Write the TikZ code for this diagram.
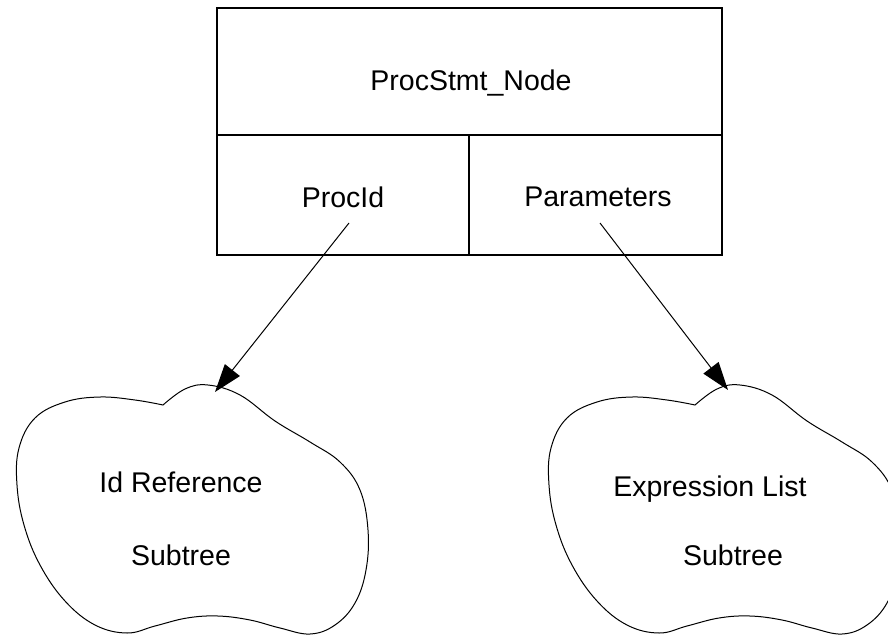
\documentclass[tikz,border=0pt]{standalone}
\usepackage{fontspec}
\setmainfont{Liberation Sans}
\usetikzlibrary{arrows.meta}
\begin{document}
\begin{tikzpicture}[x=1pt,y=-1pt,
  cell/.style={draw, line width=1.2pt, inner sep=0pt, outer sep=0pt},
  label/.style={anchor=base, inner sep=0pt, font=\fontsize{28.5}{34}\selectfont},
  cloudline/.style={line width=1pt},
  link/.style={line width=1pt, -{Triangle[length=28pt,width=19pt]}}]
\useasboundingbox (0,0) rectangle (888,634);
\clip (0,0) rectangle (888,634);

% record cells
\node[cell, minimum width=505pt, minimum height=127pt] (head) at (469.5,71.5) {};
\node[cell, minimum width=252pt, minimum height=120pt] (procid) at (343,195) {};
\node[cell, minimum width=253pt, minimum height=120pt] (params) at (595.5,195) {};

\node[label] (headtxt) at (471,90) {ProcStmt\_Node};
\node[label] (procidtxt) at (343,207) {ProcId};
\node[label] (paramstxt) at (598,206) {Parameters};

% subtree clouds
\def\cloudpath{%
  plot[smooth, tension=0.65] coordinates {
    (163,405) (185,389) (208,385) (240,395) (275,421) (310,442)
    (340,462) (360,490) (368,530) (366,570) (355,603) (335,625)
    (310,634) (280,628) (250,620) (218,616) (187,618) (155,626)
    (127,633) (95,625) (65,601) (40,565) (24,525) (17,485)
    (19,448) (35,418) (65,402) (100,397) (135,400) (163,405)} -- cycle}
\draw[cloudline] \cloudpath;
\begin{scope}[xshift=532pt]
\draw[cloudline] \cloudpath;
\end{scope}

\node[label] (idref) at (181,492) {Id Reference};
\node[label] (idsub) at (181,565) {Subtree};
\node[label] (exprl) at (710,496) {Expression List};
\node[label] (exprsub) at (733,565) {Subtree};

% connectors
\coordinate (p1) at (349,223);
\coordinate (p2) at (600,223);
\coordinate (c1) at (215,392);
\coordinate (c2) at (728,390);
\draw[link] (p1) -- (c1);
\draw[link] (p2) -- (c2);
\end{tikzpicture}
\end{document}
